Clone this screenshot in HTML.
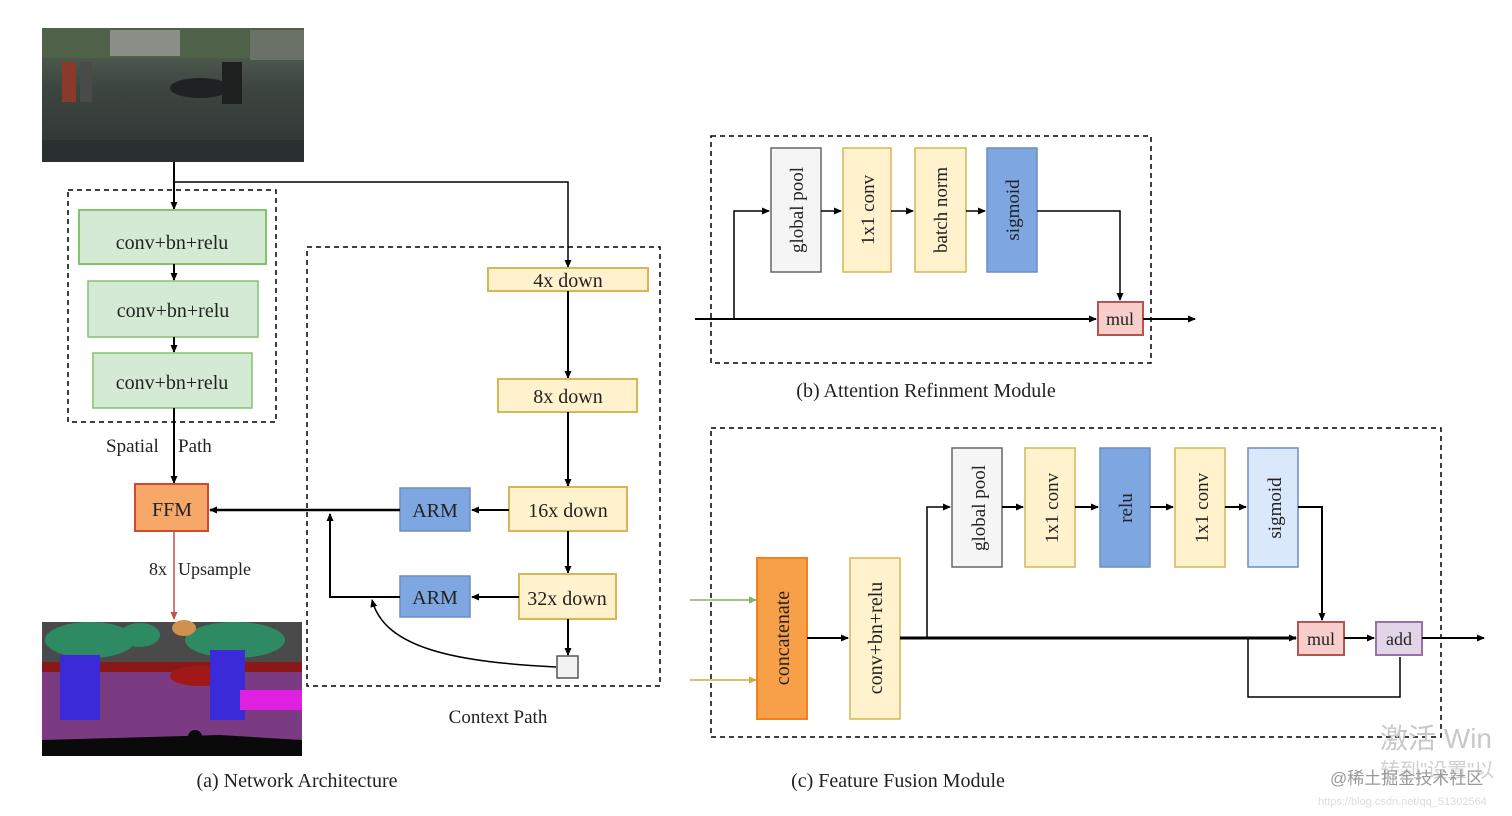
<!DOCTYPE html>
<html><head><meta charset="utf-8"><style>
body{margin:0;background:#fff;}
svg text{font-family:"Liberation Serif","Noto Serif CJK SC",serif;fill:#222;}
</style></head><body>
<svg width="1512" height="811" viewBox="0 0 1512 811" xmlns="http://www.w3.org/2000/svg">
<defs>
<marker id="a" markerWidth="8" markerHeight="8" refX="7" refY="4" orient="auto" markerUnits="userSpaceOnUse"><path d="M0,0.5 L8,4 L0,7.5 Z" fill="#000"/></marker>
<marker id="ar" markerWidth="8" markerHeight="8" refX="7" refY="4" orient="auto" markerUnits="userSpaceOnUse"><path d="M0,0.5 L8,4 L0,7.5 Z" fill="#c0504d"/></marker>
<marker id="ag" markerWidth="8" markerHeight="8" refX="7" refY="4" orient="auto" markerUnits="userSpaceOnUse"><path d="M0,0.5 L8,4 L0,7.5 Z" fill="#82b366"/></marker>
<marker id="ay" markerWidth="8" markerHeight="8" refX="7" refY="4" orient="auto" markerUnits="userSpaceOnUse"><path d="M0,0.5 L8,4 L0,7.5 Z" fill="#c8b040"/></marker>
<linearGradient id="ph" x1="0" y1="0" x2="0" y2="1"><stop offset="0" stop-color="#5a6a58"/><stop offset="0.45" stop-color="#3d4540"/><stop offset="1" stop-color="#2e3434"/></linearGradient>
</defs>

<rect x="42" y="28" width="262" height="134" fill="url(#ph)"/>
<rect x="42" y="28" width="262" height="30" fill="#4f6148"/>
<rect x="110" y="30" width="70" height="26" fill="#8a8f88"/>
<rect x="250" y="30" width="54" height="30" fill="#6a7268"/>
<ellipse cx="200" cy="88" rx="30" ry="10" fill="#1e2222"/>
<rect x="62" y="62" width="14" height="40" fill="#8a3a2a"/>
<rect x="80" y="62" width="12" height="40" fill="#4a4a4a"/>
<rect x="222" y="62" width="20" height="42" fill="#1e2020"/>
<rect x="42" y="140" width="262" height="22" fill="#2a3030"/>

<rect x="42" y="622" width="260" height="134" fill="#7a3b82"/>
<rect x="42" y="622" width="260" height="40" fill="#4a4a4a"/>
<ellipse cx="90" cy="640" rx="45" ry="18" fill="#2e8a62"/>
<ellipse cx="235" cy="640" rx="50" ry="18" fill="#2e8a62"/>
<ellipse cx="140" cy="635" rx="20" ry="12" fill="#2e8a62"/>
<rect x="42" y="662" width="260" height="10" fill="#8a1818"/>
<ellipse cx="200" cy="676" rx="30" ry="10" fill="#a01818"/>
<rect x="60" y="655" width="40" height="65" fill="#3a2ad8"/>
<rect x="210" y="650" width="35" height="70" fill="#3a2ad8"/>
<rect x="240" y="690" width="62" height="20" fill="#e020e0"/>
<path d="M42,740 L220,735 L302,740 L302,756 L42,756 Z" fill="#0a0a0a"/>
<circle cx="195" cy="737" r="7" fill="#0a0a0a"/>
<ellipse cx="184" cy="628" rx="12" ry="8" fill="#d09050"/>

<rect x="68" y="190" width="208" height="232" fill="none" stroke="#000" stroke-width="1.5" stroke-dasharray="5,4"/>
<line x1="174" y1="162" x2="174" y2="209" stroke="#000" stroke-width="2" marker-end="url(#a)"/>
<polyline points="174,182 568,182 568,267" fill="none" stroke="#000" stroke-width="1.5" marker-end="url(#a)"/>
<rect x="79" y="210" width="187" height="54" fill="#d5ead5" stroke="#82c36e" stroke-width="2"/>
<text x="172" y="249" font-size="20" text-anchor="middle">conv+bn+relu</text>
<line x1="174" y1="264" x2="174" y2="280" stroke="#000" stroke-width="2" marker-end="url(#a)"/>
<rect x="88" y="281" width="170" height="56" fill="#d5ead5" stroke="#82c36e" stroke-width="1.5"/>
<text x="173" y="317" font-size="20" text-anchor="middle">conv+bn+relu</text>
<line x1="174" y1="337" x2="174" y2="352" stroke="#000" stroke-width="2" marker-end="url(#a)"/>
<rect x="93" y="353" width="159" height="55" fill="#d5ead5" stroke="#82c36e" stroke-width="1.5"/>
<text x="172" y="389" font-size="20" text-anchor="middle">conv+bn+relu</text>
<line x1="174" y1="408" x2="174" y2="483" stroke="#000" stroke-width="2" marker-end="url(#a)"/>
<rect x="105" y="432" width="56" height="24" fill="#fff"/>
<rect x="178" y="432" width="50" height="24" fill="#fff"/>
<text x="106" y="452" font-size="19">Spatial</text>
<text x="178" y="452" font-size="19">Path</text>

<rect x="135" y="484" width="73" height="47" fill="#f6a868" stroke="#d04a30" stroke-width="2"/>
<text x="172" y="516" font-size="20" text-anchor="middle">FFM</text>
<line x1="174" y1="531" x2="174" y2="619" stroke="#c0504d" stroke-width="1.5" marker-end="url(#ar)"/>
<rect x="146" y="557" width="24" height="22" fill="#fff"/>
<text x="149" y="575" font-size="18">8x</text>
<text x="178" y="575" font-size="18">Upsample</text>

<rect x="307" y="247" width="353" height="439" fill="none" stroke="#000" stroke-width="1.5" stroke-dasharray="5,4"/>
<rect x="488" y="268" width="160" height="23" fill="#fff2cc" stroke="#d6b656" stroke-width="2"/>
<text x="568" y="287" font-size="20" text-anchor="middle">4x down</text>
<line x1="568" y1="291" x2="568" y2="378" stroke="#000" stroke-width="2" marker-end="url(#a)"/>
<rect x="498" y="379" width="139" height="33" fill="#fff2cc" stroke="#d6b656" stroke-width="2"/>
<text x="568" y="403" font-size="20" text-anchor="middle">8x down</text>
<line x1="568" y1="412" x2="568" y2="486" stroke="#000" stroke-width="2" marker-end="url(#a)"/>
<rect x="509" y="487" width="118" height="44" fill="#fff2cc" stroke="#d6b656" stroke-width="2"/>
<text x="568" y="517" font-size="20" text-anchor="middle">16x down</text>
<line x1="568" y1="531" x2="568" y2="573" stroke="#000" stroke-width="2" marker-end="url(#a)"/>
<rect x="519" y="574" width="97" height="45" fill="#fff2cc" stroke="#d6b656" stroke-width="2"/>
<text x="567" y="605" font-size="20" text-anchor="middle">32x down</text>
<line x1="568" y1="619" x2="568" y2="655" stroke="#000" stroke-width="2" marker-end="url(#a)"/>
<rect x="557" y="656" width="21" height="22" fill="#f2f2f2" stroke="#555" stroke-width="1.5"/>

<rect x="400" y="488" width="70" height="43" fill="#7ea6e0" stroke="#6c8ebf" stroke-width="1.5"/>
<text x="435" y="517" font-size="20" text-anchor="middle">ARM</text>
<rect x="400" y="576" width="70" height="41" fill="#7ea6e0" stroke="#6c8ebf" stroke-width="1.5"/>
<text x="435" y="604" font-size="20" text-anchor="middle">ARM</text>
<line x1="509" y1="510" x2="472" y2="510" stroke="#000" stroke-width="2" marker-end="url(#a)"/>
<line x1="519" y1="597" x2="472" y2="597" stroke="#000" stroke-width="2" marker-end="url(#a)"/>
<line x1="400" y1="510" x2="210" y2="510" stroke="#000" stroke-width="2.5" marker-end="url(#a)"/>
<polyline points="400,597 330,597 330,514" fill="none" stroke="#000" stroke-width="2" marker-end="url(#a)"/>
<path d="M556,667 C460,662 385,650 372,600" fill="none" stroke="#000" stroke-width="1.5" marker-end="url(#a)"/>

<text x="498" y="723" font-size="19" text-anchor="middle">Context Path</text>
<text x="297" y="787" font-size="20" text-anchor="middle">(a) Network Architecture</text>

<rect x="711" y="136" width="440" height="227" fill="none" stroke="#000" stroke-width="1.5" stroke-dasharray="5,4"/>
<line x1="695" y1="319" x2="1096" y2="319" stroke="#000" stroke-width="2" marker-end="url(#a)"/>
<polyline points="734,319 734,211 769,211" fill="none" stroke="#000" stroke-width="1.5" marker-end="url(#a)"/>
<rect x="771" y="148" width="50" height="124" fill="#f5f5f5" stroke="#666" stroke-width="1.5"/>
<text transform="translate(803,210) rotate(-90)" font-size="19" text-anchor="middle">global pool</text>
<line x1="821" y1="211" x2="841" y2="211" stroke="#000" stroke-width="1.5" marker-end="url(#a)"/>
<rect x="843" y="148" width="48" height="124" fill="#fff2cc" stroke="#d6b656" stroke-width="1.5"/>
<text transform="translate(874,210) rotate(-90)" font-size="19" text-anchor="middle">1x1 conv</text>
<line x1="891" y1="211" x2="913" y2="211" stroke="#000" stroke-width="1.5" marker-end="url(#a)"/>
<rect x="915" y="148" width="51" height="124" fill="#fff2cc" stroke="#d6b656" stroke-width="1.5"/>
<text transform="translate(947,210) rotate(-90)" font-size="19" text-anchor="middle">batch norm</text>
<line x1="966" y1="211" x2="985" y2="211" stroke="#000" stroke-width="1.5" marker-end="url(#a)"/>
<rect x="987" y="148" width="50" height="124" fill="#7ea6e0" stroke="#6c8ebf" stroke-width="1.5"/>
<text transform="translate(1019,210) rotate(-90)" font-size="19" text-anchor="middle">sigmoid</text>
<polyline points="1037,211 1120,211 1120,300" fill="none" stroke="#000" stroke-width="1.5" marker-end="url(#a)"/>
<rect x="1098" y="302" width="45" height="33" fill="#f8cecc" stroke="#b85450" stroke-width="2"/>
<text x="1120" y="325" font-size="18" text-anchor="middle">mul</text>
<line x1="1143" y1="319" x2="1195" y2="319" stroke="#000" stroke-width="2" marker-end="url(#a)"/>
<text x="926" y="397" font-size="20" text-anchor="middle">(b) Attention Refinment Module</text>

<rect x="711" y="428" width="730" height="309" fill="none" stroke="#000" stroke-width="1.5" stroke-dasharray="5,4"/>
<line x1="690" y1="600" x2="756" y2="600" stroke="#82b366" stroke-width="1.5" marker-end="url(#ag)"/>
<line x1="690" y1="680" x2="756" y2="680" stroke="#c8b040" stroke-width="1.5" marker-end="url(#ay)"/>
<rect x="757" y="558" width="50" height="161" fill="#f8a048" stroke="#f08020" stroke-width="2"/>
<text transform="translate(789,638) rotate(-90)" font-size="20" text-anchor="middle">concatenate</text>
<line x1="807" y1="638" x2="848" y2="638" stroke="#000" stroke-width="2" marker-end="url(#a)"/>
<rect x="850" y="558" width="50" height="161" fill="#fff2cc" stroke="#d6b656" stroke-width="1.5"/>
<text transform="translate(882,638) rotate(-90)" font-size="20" text-anchor="middle">conv+bn+relu</text>
<line x1="900" y1="638" x2="1296" y2="638" stroke="#000" stroke-width="3" marker-end="url(#a)"/>
<polyline points="927,638 927,507 950,507" fill="none" stroke="#000" stroke-width="1.5" marker-end="url(#a)"/>
<rect x="952" y="448" width="50" height="119" fill="#f5f5f5" stroke="#666" stroke-width="1.5"/>
<text transform="translate(985,508) rotate(-90)" font-size="19" text-anchor="middle">global pool</text>
<line x1="1002" y1="507" x2="1023" y2="507" stroke="#000" stroke-width="2" marker-end="url(#a)"/>
<rect x="1025" y="448" width="50" height="119" fill="#fff2cc" stroke="#d6b656" stroke-width="1.5"/>
<text transform="translate(1058,508) rotate(-90)" font-size="19" text-anchor="middle">1x1 conv</text>
<line x1="1075" y1="507" x2="1098" y2="507" stroke="#000" stroke-width="2" marker-end="url(#a)"/>
<rect x="1100" y="448" width="50" height="119" fill="#7ea6e0" stroke="#6c8ebf" stroke-width="1.5"/>
<text transform="translate(1132,508) rotate(-90)" font-size="19" text-anchor="middle">relu</text>
<line x1="1150" y1="507" x2="1173" y2="507" stroke="#000" stroke-width="2" marker-end="url(#a)"/>
<rect x="1175" y="448" width="50" height="119" fill="#fff2cc" stroke="#d6b656" stroke-width="1.5"/>
<text transform="translate(1208,508) rotate(-90)" font-size="19" text-anchor="middle">1x1 conv</text>
<line x1="1225" y1="507" x2="1246" y2="507" stroke="#000" stroke-width="2" marker-end="url(#a)"/>
<rect x="1248" y="448" width="50" height="119" fill="#dae8fc" stroke="#6c8ebf" stroke-width="1.5"/>
<text transform="translate(1281,508) rotate(-90)" font-size="19" text-anchor="middle">sigmoid</text>
<polyline points="1298,507 1322,507 1322,620" fill="none" stroke="#000" stroke-width="2" marker-end="url(#a)"/>
<rect x="1298" y="622" width="46" height="33" fill="#f8cecc" stroke="#b85450" stroke-width="2"/>
<text x="1321" y="645" font-size="18" text-anchor="middle">mul</text>
<line x1="1344" y1="638" x2="1374" y2="638" stroke="#000" stroke-width="2" marker-end="url(#a)"/>
<rect x="1376" y="622" width="46" height="33" fill="#e1d5e7" stroke="#9673a6" stroke-width="2"/>
<text x="1399" y="645" font-size="18" text-anchor="middle">add</text>
<polyline points="1248,638 1248,697 1400,697 1400,657" fill="none" stroke="#000" stroke-width="1.5"/>
<line x1="1422" y1="638" x2="1484" y2="638" stroke="#000" stroke-width="2" marker-end="url(#a)"/>
<text x="898" y="787" font-size="20" text-anchor="middle">(c) Feature Fusion Module</text>

<text x="1380" y="748" font-size="28" style="fill:#c8c8c8;font-family:'Liberation Sans','Noto Sans CJK SC',sans-serif">激活 Win</text>
<text x="1380" y="777" font-size="20" style="fill:#d0d0d0;font-family:'Liberation Sans','Noto Sans CJK SC',sans-serif">转到"设置"以</text>
<text x="1330" y="784" font-size="17" style="fill:#999;font-family:'Liberation Sans','Noto Sans CJK SC',sans-serif">@稀土掘金技术社区</text>
<text x="1318" y="805" font-size="11" style="fill:#ddd;font-family:'Liberation Sans',sans-serif">https://blog.csdn.net/qq_51302564</text>
</svg>
</body></html>
